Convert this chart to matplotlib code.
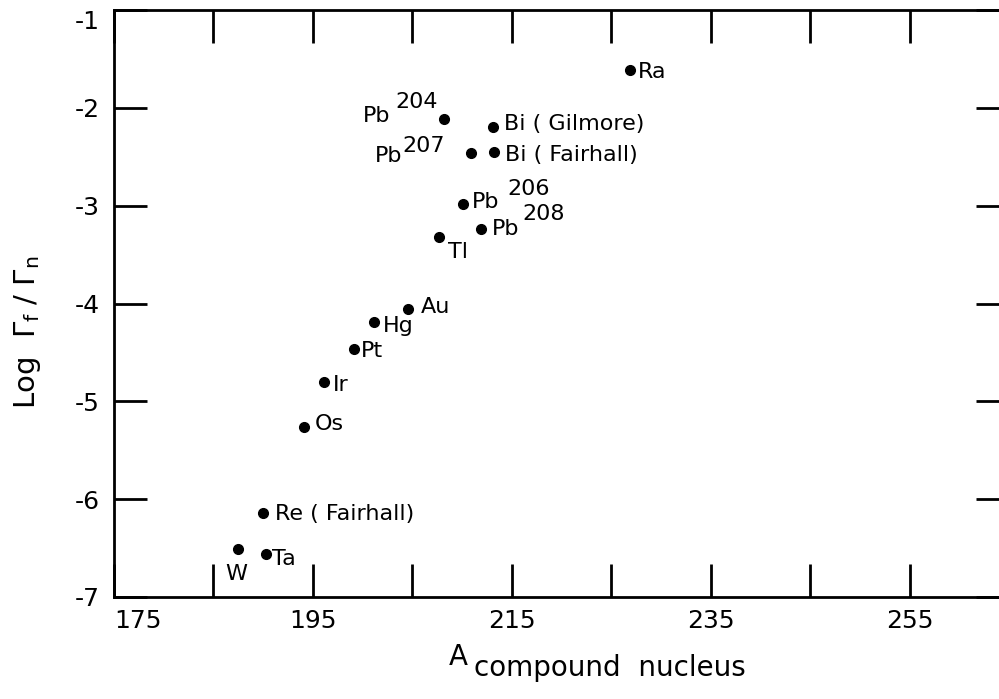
import numpy as np
import matplotlib
matplotlib.use("Agg")
import matplotlib.pyplot as plt

# data
A_nucleus = [226.9, 208.2, 213.1, 210.9, 213.2, 210.1, 211.9, 207.7,
             204.6, 201.1, 199.1, 196.1, 194.1, 190.0, 190.3, 187.5]
log_ratio = [-1.61, -2.11, -2.20, -2.46, -2.45, -2.98, -3.24, -3.32,
             -4.06, -4.19, -4.47, -4.80, -5.26, -6.14, -6.56, -6.51]
labels = ["Ra", "Pb", "Bi ( Gilmore)", "Pb", "Bi ( Fairhall)", "Pb", "Pb", "Tl",
          "Au", "Hg", "Pt", "Ir", "Os", "Re ( Fairhall)", "Ta", "W"]
mass_sup = ["", "204", "", "207", "", "206", "208", "",
            "", "", "", "", "", "", "", ""]

x_ticks = [175, 185, 195, 205, 215, 225, 235, 245, 255, 265]
x_ticklabels = ["175", "", "195", "", "215", "", "235", "", "255", ""]
y_ticks = [-1, -2, -3, -4, -5, -6, -7]
y_ticklabels = ["-1", "-2", "-3", "-4", "-5", "-6", "-7"]

# label placement in pixels: (dx, dy, ha) for name, then for superscript
label_pos = [(8, -8, "left"), (-54, -3, "right"), (11, -3, "left"), (-69, -9, "right"),
             (11, -9, "left"), (9, -4, "left"), (11, -6, "left"), (9, -21, "left"),
             (12, -4, "left"), (9, -10, "left"), (7, -8, "left"), (9, -9, "left"),
             (11, -3, "left"), (12, -7, "left"), (6, -11, "left"), (-13, -31, "left")]
sup_pos = {1: (-6, 11, "right"), 3: (-26, 1, "right"),
           5: (44, 9, "left"), 6: (41, 9, "left")}

W, H = 999, 699
fig = plt.figure(figsize=(W / 100, H / 100), dpi=100)
fig.patch.set_facecolor("white")
ax = fig.add_axes([114 / W, (H - 597) / H, (1009 - 114) / W, (597 - 10) / H])

ax.plot(A_nucleus, log_ratio, "o", color="black", markersize=7, linestyle="none")

for i, (xv, yv) in enumerate(zip(A_nucleus, log_ratio)):
    dx, dy, ha = label_pos[i]
    ax.annotate(labels[i], (xv, yv), xytext=(dx, dy), textcoords="offset pixels",
                ha=ha, va="baseline", fontsize=16, color="black")
    if mass_sup[i]:
        sdx, sdy, sha = sup_pos[i]
        ax.annotate(mass_sup[i], (xv, yv), xytext=(sdx, sdy), textcoords="offset pixels",
                    ha=sha, va="baseline", fontsize=16, color="black")

ax.set_xlim(175, 265)
ax.set_ylim(-7, -1)
ax.set_xticks(x_ticks)
ax.set_xticklabels(x_ticklabels)
ax.set_yticks(y_ticks)
ax.set_yticklabels(y_ticklabels)
ax.tick_params(direction="in", length=24, width=2, labelsize=18,
               top=True, right=True, colors="black")
ax.tick_params(axis="x", pad=9)
ax.tick_params(axis="y", pad=10)
ax.get_yticklabels()[0].set_va("top")
ax.get_xticklabels()[0].set_ha("left")
for sp in ax.spines.values():
    sp.set_linewidth(2)
    sp.set_color("black")

# axis titles
fig.text(28 / W, 1 - 332 / H, r"Log  $\Gamma_{\rm f}$ / $\Gamma_{\rm n}$",
         rotation=90, ha="center", va="center", fontsize=21)
fig.text(449 / W, 1 - 665 / H, "A", ha="left", va="baseline", fontsize=20)
fig.text(474 / W, 1 - 676 / H, "compound  nucleus", ha="left", va="baseline", fontsize=20)

plt.savefig("out.png", dpi=100)
